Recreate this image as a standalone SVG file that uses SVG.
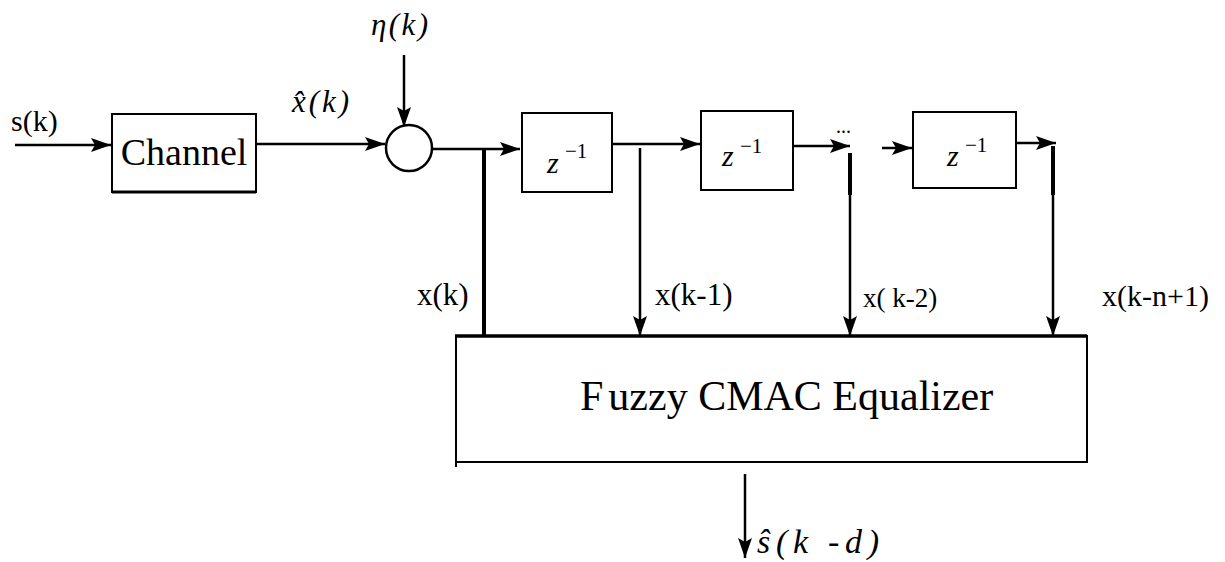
<svg xmlns="http://www.w3.org/2000/svg" width="1225" height="562" viewBox="0 0 1225 562">
<defs>
<marker id="ah" viewBox="0 0 20 14" refX="20" refY="7" markerWidth="20" markerHeight="14" markerUnits="userSpaceOnUse" orient="auto">
<path d="M0,0 L20,7 L0,14 L4,7 Z" fill="#000"/>
</marker>
</defs>
<style>
.box{fill:#fff;stroke:#000;stroke-width:2}
.arr{fill:none;stroke:#000;stroke-width:2.5;marker-end:url(#ah)}
.thick{fill:none;stroke:#000;stroke-width:4}
.t{font-family:"Liberation Serif",serif;fill:#000}
.i{font-family:"Liberation Serif",serif;font-style:italic;fill:#000}
</style>
<g id="connectors">
<line class="arr" x1="15" y1="145" x2="111" y2="145"/>
<line class="arr" x1="256" y1="144" x2="385" y2="144"/>
<line class="arr" x1="404" y1="55" x2="404" y2="127"/>
<line class="arr" x1="433" y1="149" x2="520" y2="149"/>
<line class="thick" x1="484" y1="150" x2="484" y2="337"/>
<line class="arr" x1="612" y1="144" x2="700" y2="144"/>
<line class="arr" x1="640" y1="148" x2="640" y2="336"/>
<line class="arr" x1="793" y1="146" x2="850" y2="146"/>
<line class="arr" x1="850" y1="153" x2="850" y2="336"/>
<line class="thick" x1="850" y1="153" x2="850" y2="195"/>
<line class="arr" x1="882" y1="148" x2="912" y2="148"/>
<line class="arr" x1="1016" y1="143" x2="1056" y2="143"/>
<line class="arr" x1="1053" y1="146" x2="1053" y2="336"/>
<line class="thick" x1="1053" y1="146" x2="1053" y2="195"/>
<line class="arr" x1="745" y1="474" x2="745" y2="558"/>
</g>
<g id="channel">
<rect class="box" x="112" y="114" width="144" height="78"/>
<line x1="112" y1="192" x2="256" y2="192" stroke="#000" stroke-width="3"/>
<text class="t" x="184" y="165" font-size="38" text-anchor="middle">Channel</text>
</g>
<g id="sum">
<circle cx="409" cy="148" r="23" fill="#fff" stroke="#000" stroke-width="2.5"/>
</g>
<g id="delay1">
<rect class="box" x="522" y="113" width="90" height="79"/>
<text class="i" x="547" y="173" font-size="30">z</text>
<text class="t" x="565" y="158" font-size="21">−1</text>
</g>
<g id="delay2">
<rect class="box" x="701" y="111" width="92" height="79"/>
<text class="i" x="722" y="166" font-size="30">z</text>
<text class="t" x="740" y="153" font-size="21">−1</text>
</g>
<g id="dots">
<text class="t" x="836" y="133" font-size="20">...</text>
</g>
<g id="delay3">
<rect class="box" x="913" y="112" width="103" height="76"/>
<text class="i" x="947" y="166" font-size="30">z</text>
<text class="t" x="965" y="152" font-size="21">−1</text>
</g>
<g id="equalizer">
<rect class="box" x="456" y="336" width="631" height="126"/>
<line x1="455" y1="336" x2="1087" y2="336" stroke="#000" stroke-width="3.5"/>
<line x1="456" y1="460" x2="456" y2="467" stroke="#000" stroke-width="2"/>
<text class="t" x="580" y="410" font-size="42">F<tspan dx="5">uzzy CMAC Equalizer</tspan></text>
</g>
<g id="labels">
<text class="t" x="11" y="131" font-size="30">s(k)</text>
<text class="i" x="371" y="35" font-size="31" textLength="57" lengthAdjust="spacing">η(k)</text>
<text class="i" x="292" y="112" font-size="31" textLength="57" lengthAdjust="spacing">x̂(k)</text>
<text class="t" x="417" y="305" font-size="31">x(k)</text>
<text class="t" x="655" y="305" font-size="31">x(k-1)</text>
<text class="t" x="863" y="307" font-size="27">x( k-2)</text>
<text class="t" x="1102" y="306" font-size="30">x(k-n+1)</text>
<text class="i" x="757" y="553" font-size="34" textLength="122" lengthAdjust="spacing">ŝ(k  -d)</text>
</g>
</svg>
